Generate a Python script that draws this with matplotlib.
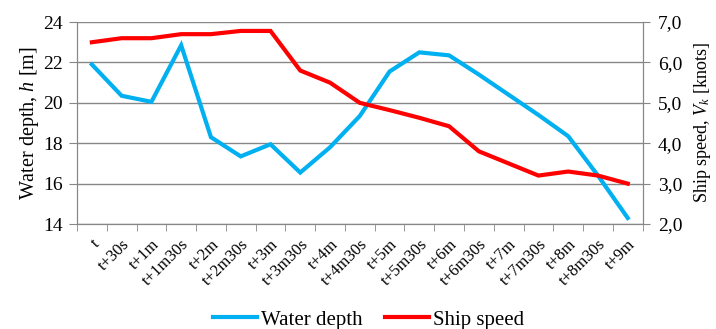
import matplotlib.pyplot as plt
import numpy as np

plt.rcParams['font.family'] = ['Liberation Serif', 'DejaVu Serif']
plt.rcParams['mathtext.fontset'] = 'custom'
plt.rcParams['mathtext.it'] = 'Liberation Serif:italic'
plt.rcParams['mathtext.rm'] = 'Liberation Serif'

times = ['t', 't+30s', 't+1m', 't+1m30s', 't+2m', 't+2m30s', 't+3m', 't+3m30s',
         't+4m', 't+4m30s', 't+5m', 't+5m30s', 't+6m', 't+6m30s', 't+7m',
         't+7m30s', 't+8m', 't+8m30s', 't+9m']
water_depth = [21.9, 20.35, 20.05, 22.85, 18.3, 17.35, 17.95, 16.55, 17.8, 19.35,
               21.55, 22.5, 22.35, 21.4, 20.4, 19.4, 18.35, 16.4, 14.3]
ship_speed = [6.5, 6.6, 6.6, 6.7, 6.7, 6.78, 6.78, 5.8, 5.5, 5.0,
              4.82, 4.63, 4.42, 3.8, 3.5, 3.2, 3.3, 3.2, 3.0]

blue = '#00B0F0'
red = '#FF0000'
grey = '#878787'

fig = plt.figure(figsize=(7.16, 3.29), dpi=100)
ax1 = fig.add_axes([0.1075, 0.319, 0.79, 0.614])
ax2 = ax1.twinx()

x = np.arange(len(times))
l1, = ax1.plot(x, water_depth, color=blue, lw=3, solid_joinstyle='miter', zorder=3)
l2, = ax2.plot(x, ship_speed, color=red, lw=3, solid_joinstyle='miter', zorder=3)

ax1.set_xlim(-0.5, len(times) - 0.5)
ax1.set_ylim(14, 24)
ax2.set_ylim(2, 7)
ax1.set_yticks(np.arange(14, 25, 2))
ax2.set_yticks(np.arange(2, 8, 1))
ax2.set_yticklabels([f'{v:.1f}'.replace('.', ',') for v in np.arange(2, 8, 1)])

ax1.set_xticks(x)
ax1.set_xticklabels(times, rotation=45, ha='right', rotation_mode='anchor', fontsize=12)
ax1.set_xticks(np.arange(-0.5, len(times), 1), minor=True)
ax1.tick_params(axis='x', which='major', length=0, pad=9)
ax1.tick_params(axis='x', which='minor', length=5, color=grey)
ax1.tick_params(axis='y', length=6, color=grey, labelsize=14, pad=4)
ax2.tick_params(axis='y', length=5, color=grey, labelsize=14, pad=6)

ax1.grid(axis='y', color=grey, lw=1)
for ax in (ax1, ax2):
    ax.spines['top'].set_visible(False)
    for s in ('left', 'right', 'bottom'):
        ax.spines[s].set_color(grey)
ax1.set_axisbelow(True)

ax1.set_ylabel('Water depth, $h$ [m]', fontsize=14.5, labelpad=2)
ax2.set_ylabel('Ship speed, $V_k$ [knots]', fontsize=13, labelpad=7)

fig.legend([l1, l2], ['Water depth', 'Ship speed'], loc='center',
           bbox_to_anchor=(0.515, 0.028), ncol=2, frameon=False, fontsize=15,
           handlelength=2.1, handletextpad=0.2, columnspacing=1.1)

fig.savefig('out.png', dpi=100)
